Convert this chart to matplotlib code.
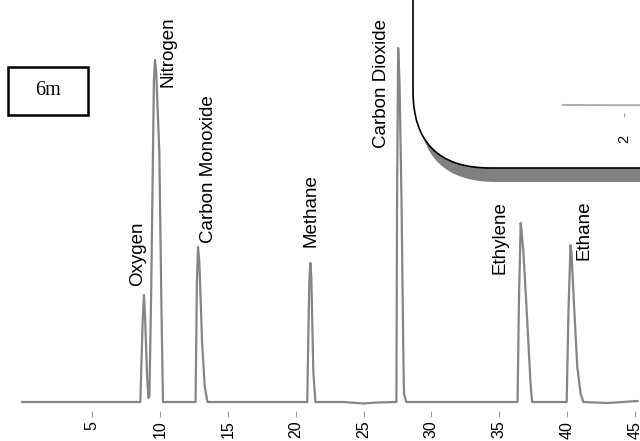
"""
Gas chromatogram of a permanent gas / light hydrocarbon mix (6m column).
"""

import matplotlib
matplotlib.use("Agg")
import matplotlib.pyplot as plt
from matplotlib.patches import FancyBboxPatch, Rectangle
from matplotlib.transforms import IdentityTransform

# Detector trace (time in min, signal in arbitrary units)
trace_time = [
    -0.15, 3.0, 6.0, 8.55,
    8.72, 8.82, 8.9, 9.05, 9.15,                       # oxygen
    9.22, 9.35, 9.55, 9.63, 9.72, 9.95, 10.1, 10.22,   # nitrogen
    12.62, 12.72, 12.8, 12.9, 13.1, 13.3, 13.5,        # carbon monoxide
    20.85, 21.0, 21.08, 21.15, 21.3, 21.45,            # methane
    23.5, 25.0, 26.0,
    27.42, 27.47, 27.55, 27.65, 27.8, 27.92, 27.98, 28.15,  # carbon dioxide
    33.0,
    36.35, 36.45, 36.58, 36.65, 36.78, 37.02, 37.3, 37.42,  # ethylene
    39.97, 40.1, 40.25, 40.32, 40.5, 40.75, 41.0, 41.2,     # ethane
    43.0, 45.2,
]
trace_signal = [
    0, 0, 0, 0,
    80, 107, 85, 25, 4,
    6, 110, 320, 342, 330, 250, 100, 0,
    0, 120, 155, 140, 60, 15, 0,
    0, 120, 139, 125, 30, 0,
    0, -1.5, -0.5,
    0, 200, 354, 320, 200, 60, 8, 0,
    0,
    0, 100, 179, 170, 150, 92, 20, 0,
    0, 90, 157, 150, 100, 35, 8, 0,
    -1, 1,
]

tick_values = [5, 10, 15, 20, 25, 30, 35, 40, 45]

peak_names = ["Oxygen", "Nitrogen", "Carbon Monoxide", "Methane",
              "Carbon Dioxide", "Ethylene", "Ethane"]
label_time = [8.38, 10.59, 13.6, 21.13, 26.3, 35.05, 41.24]
label_signal = [116, 315, 159, 155, 254, 128, 142]

# piece of the trace visible in the (cut off) inset panel
inset_time = [0.45, 1.0, 2.4]
inset_signal = [0.45, 0.44, 0.43]
inset_ticks = [2]

W, H = 640, 441
SANS = ["Liberation Sans", "DejaVu Sans"]


def px_axes(fig, left, top, right, bottom):
    """Add axes given in pixel coordinates measured from the top-left corner."""
    return fig.add_axes([left / W, 1 - bottom / H, (right - left) / W, (bottom - top) / H])


fig = plt.figure(figsize=(W / 100, H / 100), dpi=100)

# Main chromatogram
ax = px_axes(fig, 0, 0, W, 411)
ax.plot(trace_time, trace_signal, color="#858585", linewidth=1.6, solid_joinstyle="round")
ax.set_xlim(-24.3 / 13.57, (W - 24.3) / 13.57)
ax.set_ylim(-9, 402)
for s in ax.spines.values():
    s.set_visible(False)
ax.set_yticks([])
ax.set_xticks(tick_values)
ax.set_xticklabels([str(v) for v in tick_values], family=SANS)
ax.tick_params(axis="x", direction="out", length=4, width=0.8, color="#a0a0a0",
               pad=3, labelsize=11.5, labelrotation=90)

for name, t, s in zip(peak_names, label_time, label_signal):
    ax.text(t, s, name, rotation=90, ha="center", va="bottom",
            fontsize=13.5, family=SANS)

# Rounded inset panel with drop shadow (top right, mostly off the page)
ident = IdentityTransform()
shadow = FancyBboxPatch((413 + 6, H - 168 - 14), 400, 400,
                        boxstyle="round,pad=0,rounding_size=77",
                        facecolor="#808080", edgecolor="none",
                        transform=ident, zorder=1)
panel = FancyBboxPatch((413, H - 168), 400, 400,
                       boxstyle="round,pad=0,rounding_size=77",
                       facecolor="white", edgecolor="black", linewidth=1.2,
                       transform=ident, zorder=2)
fig.add_artist(shadow)
fig.add_artist(panel)

ins = px_axes(fig, 545, 95, 640, 113)
ins.set_zorder(3)
ins.patch.set_visible(False)
ins.plot(inset_time, inset_signal, color="#aaaaaa", linewidth=1.4)
ins.set_xlim(0, 2.4)
ins.set_ylim(0, 1)
for s in ins.spines.values():
    s.set_visible(False)
ins.set_yticks([])
ins.set_xticks(inset_ticks)
ins.set_xticklabels([str(v) for v in inset_ticks], family=SANS)
ins.tick_params(axis="x", direction="out", length=3, width=0.8, color="#a0a0a0",
                pad=13, labelsize=10.5, labelrotation=90)

# Column length tag
fig.add_artist(Rectangle((8, H - 115), 80, 48, fill=False, edgecolor="black",
                         linewidth=1.8, transform=ident, zorder=2))
fig.text(48 / W, 1 - 91 / H, "6m", ha="center", va="center",
         fontsize=14.5, family=["Liberation Serif", "DejaVu Serif"])

fig.savefig("out.png", dpi=100)
plt.close(fig)
